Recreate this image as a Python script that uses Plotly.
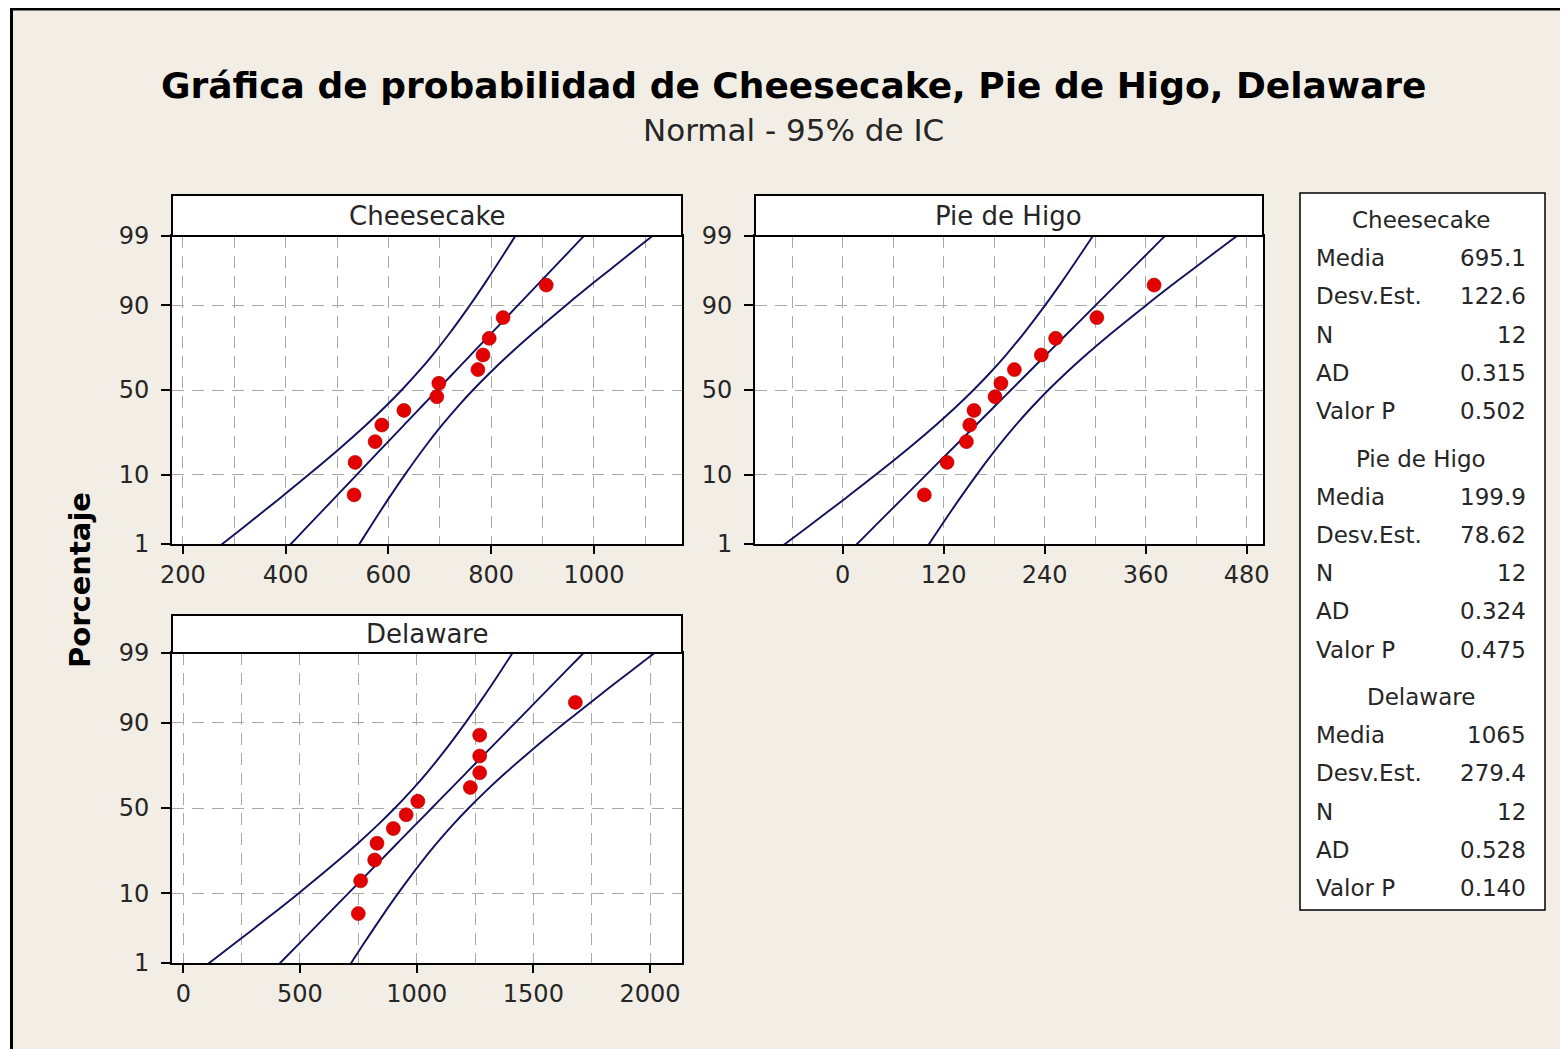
import plotly.graph_objects as go
from statistics import NormalDist

W, H = 1568, 1049
ND = NormalDist()

# ---------------- data ----------------
TITLE = "Gráfica de probabilidad de Cheesecake, Pie de Higo, Delaware"
SUBTITLE = "Normal - 95% de IC"
Y_TITLE = "Porcentaje"

series_names = ["Cheesecake", "Pie de Higo", "Delaware"]

cheesecake = [533, 535, 574, 587, 630, 694, 698, 774, 784, 796, 823, 907]
pie_de_higo = [97, 124, 147, 151, 156, 181, 188, 204, 236, 253, 302, 370]
delaware = [750, 760, 820, 830, 900, 955, 1005, 1230, 1270, 1270, 1270, 1680]

# plotting positions (percent) of the 12 ordered observations
plot_pos_pct = [5.65, 13.71, 21.77, 29.84, 37.90, 45.97, 54.03, 62.10, 70.16, 78.23, 86.29, 94.35]

media = [695.1, 199.9, 1065]
desv_est = [122.6, 78.62, 279.4]
n_obs = [12, 12, 12]
ad_stat = [0.315, 0.324, 0.528]
valor_p = [0.502, 0.475, 0.140]

media_txt = ["695.1", "199.9", "1065"]
desv_txt = ["122.6", "78.62", "279.4"]
n_txt = ["12", "12", "12"]
ad_txt = ["0.315", "0.324", "0.528"]
p_txt = ["0.502", "0.475", "0.140"]
stat_labels = ["Media", "Desv.Est.", "N", "AD", "Valor P"]

y_tick_pct = [1, 10, 50, 90, 99]
y_tick_text = ["1", "10", "50", "90", "99"]
band_pct = [0.1, 0.5, 1, 2, 5, 10, 20, 30, 40, 50, 60, 70, 80, 90, 95, 98, 99, 99.5, 99.9]

x_dtick = [200, 120, 500]
x_minor = [100, 60, 250]
x_ranges = [[178.6, 1171.3], [-104.2, 499.4], [-48.4, 2137.0]]

# ---------------- style / layout ----------------
BG = "#F3EEE5"
LINE_C = "#11115E"
PT_C = "#E20000"
GRID_C = "#A9A9A9"
FONT = "DejaVu Sans"
TXT = "#262626"
OFF = 8  # page body margin in the browser

def px(x):
    return (x - OFF) / W

def py(y):
    return 1 - (y - OFF) / H

# panel pixel boxes (page coords): (x0, x1, ytop, ybottom, strip_top)
panels = [
    (172, 682, 236, 544, 195),
    (755, 1263, 236, 544, 195),
    (172, 682, 653, 963, 615),
]

data_sets = [cheesecake, pie_de_higo, delaware]

fig = go.Figure()
shapes = []
annotations = []

zt = [ND.inv_cdf(p / 100) for p in y_tick_pct]
zb = [ND.inv_cdf(p / 100) for p in band_pct]
zp = [ND.inv_cdf(p / 100) for p in plot_pos_pct]

layout_axes = {}
for i, (vals, (x0, x1, yt, yb, st)) in enumerate(zip(data_sets, panels)):
    k = "" if i == 0 else str(i + 1)
    xa, ya = "x" + k, "y" + k
    m, s, n = media[i], desv_est[i], n_obs[i]
    center = [m + z * s for z in zb]
    half = [1.96 * s * (1 / n + z * z / (2 * n)) ** 0.5 for z in zb]
    lo = [c - h for c, h in zip(center, half)]
    hi = [c + h for c, h in zip(center, half)]
    for xs in (lo, center, hi):
        fig.add_trace(go.Scatter(x=xs, y=zb, mode="lines", line=dict(color=LINE_C, width=1.9, shape="spline"),
                                 xaxis=xa, yaxis=ya, showlegend=False, hoverinfo="skip"))
    fig.add_trace(go.Scatter(x=vals, y=zp, mode="markers",
                             marker=dict(color=PT_C, size=14, line=dict(width=0.6, color="#B00000")),
                             xaxis=xa, yaxis=ya, showlegend=False))

    layout_axes["xaxis" + k] = dict(
        domain=[px(x0), px(x1)], anchor=ya, range=x_ranges[i], automargin=False,
        tickmode="linear", tick0=0, dtick=x_dtick[i], tickformat="d",
        ticks="outside", ticklen=8, tickwidth=1.5, tickcolor="black",
        showline=True, linecolor="black", linewidth=2, mirror=True,
        showgrid=True, gridcolor=GRID_C, gridwidth=1, griddash="12px,8px",
        minor=dict(tick0=0, dtick=x_minor[i], showgrid=True, gridcolor=GRID_C, gridwidth=1,
                   griddash="12px,8px", ticks=""),
        zeroline=False, tickfont=dict(family=FONT, size=24, color=TXT), ticklabelstandoff=0,
    )
    layout_axes["yaxis" + k] = dict(
        domain=[py(yb), py(yt)], anchor=xa, range=[zt[0], zt[-1]], automargin=False,
        tickmode="array", tickvals=zt, ticktext=y_tick_text,
        ticks="outside", ticklen=9, tickwidth=1.5, tickcolor="black",
        showline=True, linecolor="black", linewidth=2, mirror=True,
        showgrid=True, gridcolor=GRID_C, gridwidth=1, griddash="12px,8px",
        zeroline=False, tickfont=dict(family=FONT, size=24, color=TXT), ticklabelstandoff=7,
    )
    # strip header
    shapes.append(dict(type="rect", xref="paper", yref="paper", x0=px(x0), x1=px(x1), y0=py(yt), y1=py(st),
                       fillcolor="white", line=dict(color="black", width=2), layer="above"))
    annotations.append(dict(text=series_names[i], xref="paper", yref="paper", x=px((x0 + x1) / 2),
                            y=py((yt + st) / 2), showarrow=False, xanchor="center", yanchor="middle",
                            font=dict(family=FONT, size=26, color=TXT)))

# outer white margin and frame
shapes.append(dict(type="rect", xref="paper", yref="paper", x0=px(0), x1=px(10), y0=0, y1=1,
                   fillcolor="white", line=dict(width=0), layer="below"))
shapes.append(dict(type="path", xref="paper", yref="paper",
                   path=f"M {px(11.5)},{py(1060)} L {px(11.5)},{py(9)} L {px(1580)},{py(9)}",
                   line=dict(color="black", width=3)))

# stats box
shapes.append(dict(type="rect", xref="paper", yref="paper", x0=px(1300), x1=px(1545), y0=py(910), y1=py(193),
                   fillcolor="white", line=dict(color="black", width=1.5)))
stat_values = [media_txt, desv_txt, n_txt, ad_txt, p_txt]
for g in range(3):
    y0 = 220 + 238.5 * g
    annotations.append(dict(text=series_names[g], xref="paper", yref="paper", x=px(1421), y=py(y0),
                            showarrow=False, xanchor="center", yanchor="middle",
                            font=dict(family=FONT, size=23, color=TXT)))
    for r, lab in enumerate(stat_labels):
        yy = y0 + 38.2 * (r + 1)
        annotations.append(dict(text=lab, xref="paper", yref="paper", x=px(1314), y=py(yy),
                                showarrow=False, xanchor="left", yanchor="middle",
                                font=dict(family=FONT, size=23, color=TXT)))
        annotations.append(dict(text=stat_values[r][g], xref="paper", yref="paper", x=px(1528), y=py(yy),
                                showarrow=False, xanchor="right", yanchor="middle",
                                font=dict(family=FONT, size=23, color=TXT)))

# titles
annotations.append(dict(text=f"<b>{TITLE}</b>", xref="paper", yref="paper", x=px(794), y=py(85),
                        showarrow=False, xanchor="center", yanchor="middle",
                        font=dict(family=FONT, size=36, color="black")))
annotations.append(dict(text=SUBTITLE, xref="paper", yref="paper", x=px(793), y=py(130),
                        showarrow=False, xanchor="center", yanchor="middle",
                        font=dict(family=FONT, size=31, color=TXT)))
annotations.append(dict(text=f"<b>{Y_TITLE}</b>", xref="paper", yref="paper", x=px(80), y=py(580),
                        showarrow=False, xanchor="center", yanchor="middle", textangle=-90,
                        font=dict(family=FONT, size=29, color="black")))

fig.update_layout(
    template="none",
    width=W, height=H, margin=dict(l=0, r=0, t=0, b=0, pad=0, autoexpand=False),
    paper_bgcolor=BG, plot_bgcolor="white",
    shapes=shapes, annotations=annotations, showlegend=False,
    font=dict(family=FONT, color=TXT),
    **layout_axes,
)

fig.write_html("out.html")
